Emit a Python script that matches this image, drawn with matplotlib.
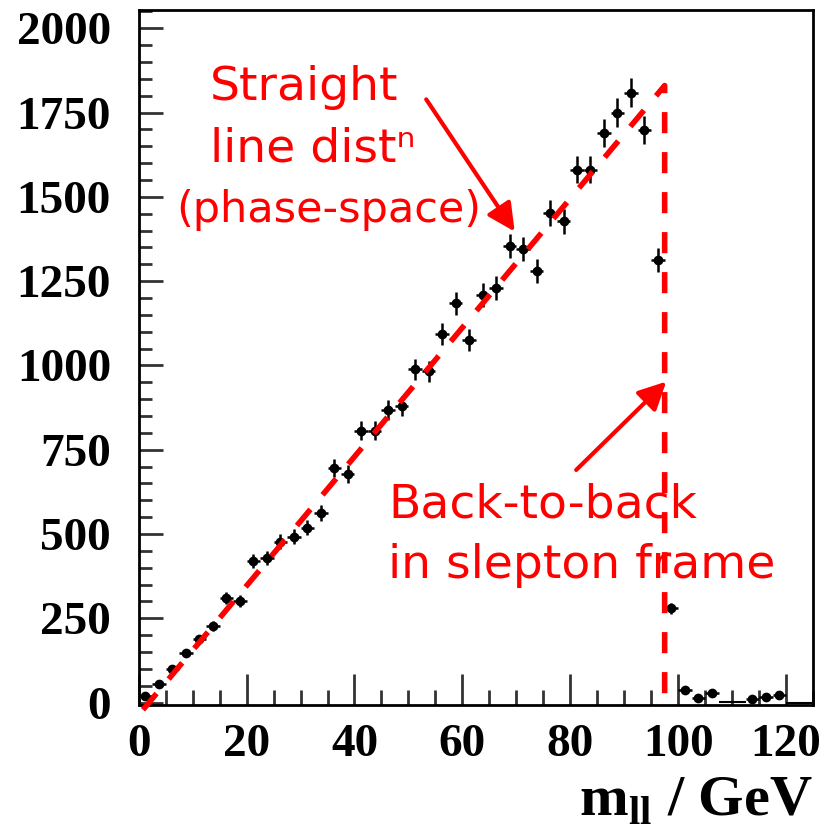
import numpy as np
import matplotlib
matplotlib.use("Agg")
import matplotlib.pyplot as plt
from matplotlib.ticker import MultipleLocator

# ---------------- data ----------------
bin_centers = [1.25, 3.75, 6.25, 8.75, 11.25, 13.75, 16.25, 18.75, 21.25, 23.75,
               26.25, 28.75, 31.25, 33.75, 36.25, 38.75, 41.25, 43.75, 46.25, 48.75,
               51.25, 53.75, 56.25, 58.75, 61.25, 63.75, 66.25, 68.75, 71.25, 73.75,
               76.25, 78.75, 81.25, 83.75, 86.25, 88.75, 91.25, 93.75, 96.25, 98.75,
               101.25, 103.75, 106.25, 113.75, 116.25, 118.75]
counts = [20, 55, 100, 148, 188, 227, 310, 302, 421, 428,
          477, 492, 519, 563, 695, 678, 806, 806, 868, 881,
          989, 982, 1093, 1184, 1076, 1209, 1230, 1354, 1345, 1281,
          1453, 1427, 1580, 1580, 1690, 1750, 1809, 1698, 1313, 280,
          36, 13, 29, 11, 17, 23]
# near-empty bins drawn without markers
empty_centers = [108.75, 111.25, 121.25, 123.75]
empty_counts = [2, 2, 0, 0]
bin_half_width = 1.25

# dashed "phase-space" triangle: start, apex, foot
line_x = [0.8, 97.5, 97.5]
line_y = [-21, 1830, 0]

x_ticks = [0, 20, 40, 60, 80, 100, 120]
y_ticks = [0, 250, 500, 750, 1000, 1250, 1500, 1750, 2000]

# ---------------- style ----------------
plt.rcParams["mathtext.fontset"] = "custom"
plt.rcParams["mathtext.bf"] = "Liberation Serif:bold"
plt.rcParams["mathtext.rm"] = "Liberation Serif:bold"

W, H = 827, 835
fig = plt.figure(figsize=(W / 100, H / 100), dpi=100)
left_px, right_px, top_px, bottom_px = 138.7, 813, 10, 705
ax = fig.add_axes([left_px / W, 1 - bottom_px / H,
                   (right_px - left_px) / W, (bottom_px - top_px) / H])

ax.set_xlim(0, 125)
ax.set_ylim(-7, 2054)

red = "#ff0000"

# data points
yerr = np.sqrt(np.array(counts, dtype=float))
ax.errorbar(bin_centers, counts, xerr=bin_half_width, yerr=yerr, fmt="o",
            color="black", ms=6, elinewidth=1.8, capsize=0, zorder=3)
ax.errorbar(empty_centers, empty_counts, xerr=bin_half_width,
            yerr=np.sqrt(np.array(empty_counts, dtype=float)), fmt="none",
            ecolor="black", elinewidth=1.5, capsize=0, zorder=3)

# red dashed line
ax.plot(line_x, line_y, color=red, lw=4, ls=(0, (3.8, 3.4)),
        dash_capstyle="butt", solid_joinstyle="miter", zorder=4, clip_on=False)

# ticks
ax.set_xticks(x_ticks)
ax.set_yticks(y_ticks)
ax.xaxis.set_minor_locator(MultipleLocator(5))
ax.yaxis.set_minor_locator(MultipleLocator(50))
ax.tick_params(axis="both", which="both", direction="in", top=False, right=False,
               width=2, color="#333333")
ax.tick_params(axis="x", which="major", length=22, pad=14)
ax.tick_params(axis="x", which="minor", length=11)
ax.tick_params(axis="y", which="major", length=17, pad=20)
ax.tick_params(axis="y", which="minor", length=9)
for lab in ax.get_xticklabels() + ax.get_yticklabels():
    lab.set_family("Liberation Serif")
    lab.set_fontweight("bold")
    lab.set_fontsize(34)
for sp in ax.spines.values():
    sp.set_linewidth(2)

# x-axis label
fig.text(813 / W, 1 - 815 / H, r"$\mathbf{m}_{\mathbf{ll}}$ / GeV",
         family="Liberation Serif", fontweight="bold", fontsize=42,
         ha="right", va="baseline")

# annotations
def ftext(x, y, s, size=34):
    fig.text(x / W, 1 - y / H, s, color=red, fontsize=size,
             family="DejaVu Sans", ha="left", va="baseline")

ftext(210, 100, "Straight")
ftext(210, 161, "line dist\u207f")
ftext(176, 222, "(phase-space)", size=31)
ftext(388, 517, "Back-to-back")
ftext(388, 578, "in slepton frame")

arrow_style = dict(arrowstyle="-|>,head_length=0.6,head_width=0.3",
                   mutation_scale=28, lw=3, color=red, shrinkA=0, shrinkB=0)
ax.annotate("", xy=(69.7, 1397), xytext=(53.3, 1789), arrowprops=arrow_style,
            zorder=5)
ax.annotate("", xy=(97.8, 952), xytext=(81.1, 690), arrowprops=arrow_style,
            zorder=5)

fig.savefig("out.png", dpi=100)
